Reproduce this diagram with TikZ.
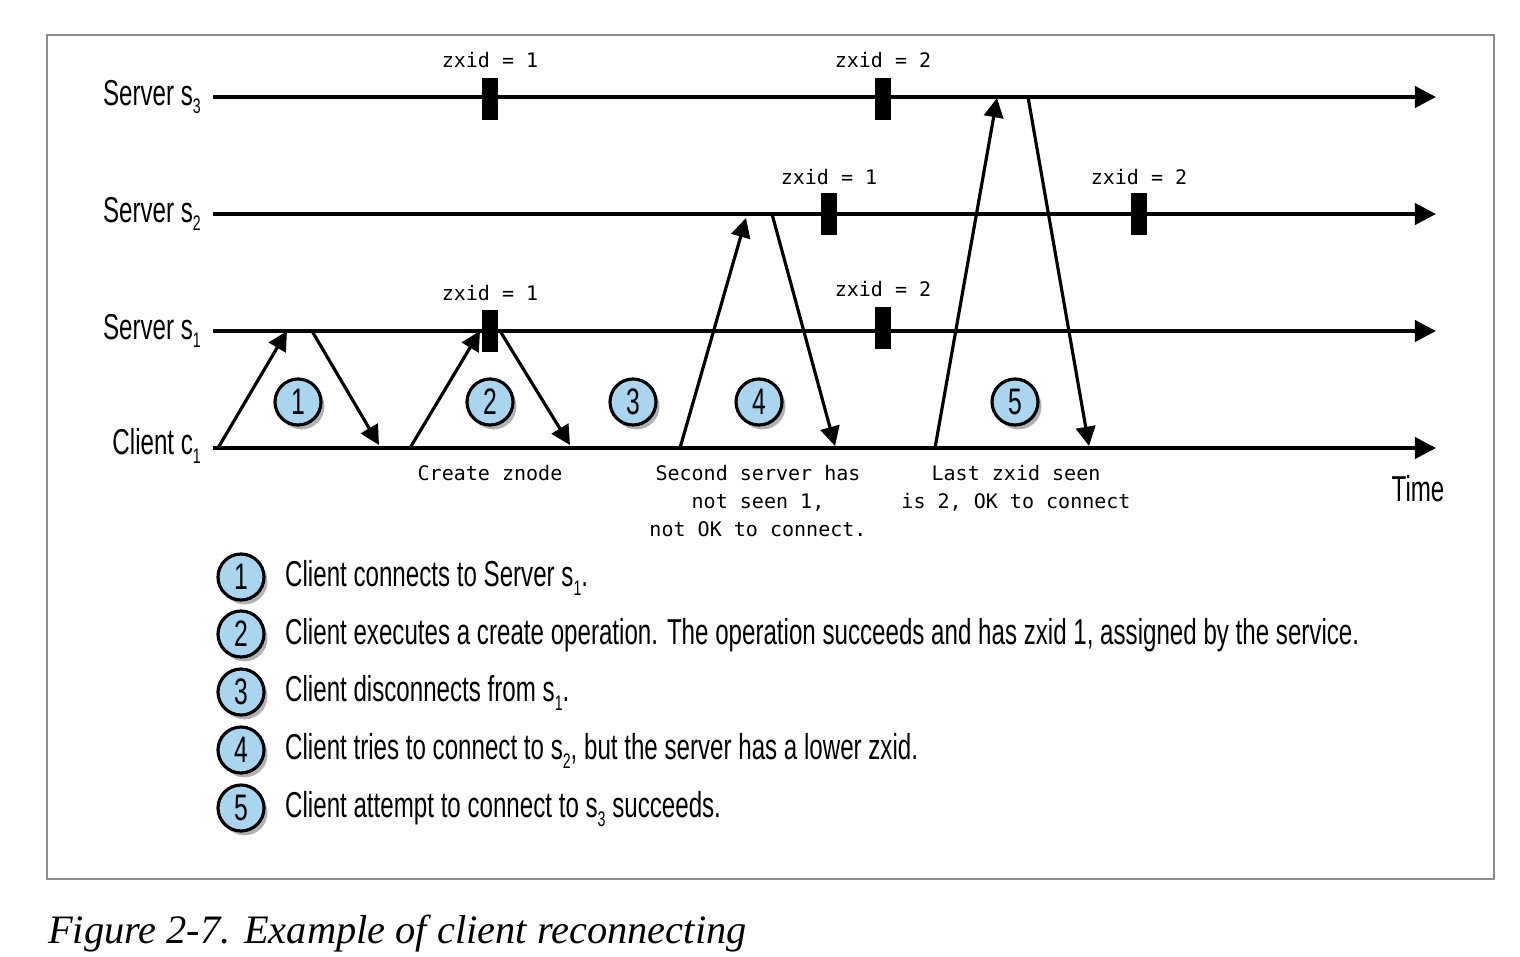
\documentclass[tikz,border=0pt]{standalone}
\usepackage{fontspec}
\setmainfont{Liberation Sans}[FakeStretch=0.67]
\newfontfamily\monof{DejaVu Sans Mono}
\newfontfamily\capf{Liberation Serif}
\usetikzlibrary{arrows.meta,shadows}
\definecolor{cblue}{HTML}{A9D5EF}
\newcommand\sbt[1]{\raisebox{-0.45ex}{\fontsize{12}{12}\selectfont #1}}
\tikzset{
  x=0.02cm, y=-0.02cm,
  big/.style={font=\fontsize{20.5}{22}\selectfont},
  mono/.style={font=\monof\fontsize{11.4}{15.8}\selectfont, align=center, inner sep=0pt},
  tl/.style={line width=2.2pt, -{Triangle[length=12pt,width=12pt]}},
  msg/.style={line width=1.8pt, -{Triangle[length=11pt,width=11pt]}},
  zmark/.style={fill=black, inner sep=0pt, minimum width=0.32cm, minimum height=0.84cm},
  num/.style={circle, draw=black, line width=1.8pt, fill=cblue, minimum size=0.92cm,
    inner sep=0pt, font=\fontsize{21}{21}\selectfont,
    drop shadow={shadow xshift=2pt, shadow yshift=-2.5pt, opacity=0.3, fill=black}},
}
\begin{document}
\begin{tikzpicture}
\useasboundingbox (0,0) rectangle (1520,956);
\draw[black!45, line width=0.8pt] (47,35) rectangle (1494,879);

% timelines
\foreach \n/\yy in {s3/97, s2/214, s1/331, c1/448}{
  \coordinate (\n-a) at (213,\yy);
  \coordinate (\n-b) at (1436,\yy);
  \draw[tl] (\n-a) -- (\n-b);
}
\node[big, anchor=east] (ls3) at (207,97) {Server s\sbt{3}};
\node[big, anchor=east] (ls2) at (207,214) {Server s\sbt{2}};
\node[big, anchor=east] (ls1) at (207,331) {Server s\sbt{1}};
\node[big, anchor=east] (lc1) at (207,446) {Client c\sbt{1}};
\node[big] (time) at (1418,489) {Time};

% zxid marks
\node[zmark] (m31) at (490,99) {};
\node[zmark] (m32) at (883,99) {};
\node[zmark] (m21) at (829,214) {};
\node[zmark] (m22) at (1139,214) {};
\node[zmark] (m11) at (490,331) {};
\node[zmark] (m12) at (883,328) {};
\node[mono] (z31) at (490,60) {zxid = 1};
\node[mono] (z32) at (883,60) {zxid = 2};
\node[mono] (z21) at (829,177) {zxid = 1};
\node[mono] (z22) at (1139,177) {zxid = 2};
\node[mono] (z11) at (490,293) {zxid = 1};
\node[mono] (z12) at (883,289) {zxid = 2};

% message arrows
\coordinate (p1a) at (218,448); \coordinate (p1b) at (287,331);
\coordinate (p1c) at (312,331); \coordinate (p1d) at (379,445);
\coordinate (p2a) at (410,448); \coordinate (p2b) at (480,331);
\coordinate (p2c) at (500,331); \coordinate (p2d) at (570,445);
\coordinate (p4a) at (680,448); \coordinate (p4b) at (746,218);
\coordinate (p4c) at (772,214); \coordinate (p4d) at (835,446);
\coordinate (p5a) at (935,448); \coordinate (p5b) at (997,98);
\coordinate (p5c) at (1028,97); \coordinate (p5d) at (1089,446);
\draw[msg] (p1a) -- (p1b);
\draw[msg] (p1c) -- (p1d);
\draw[msg] (p2a) -- (p2b);
\draw[msg] (p2c) -- (p2d);
\draw[msg] (p4a) -- (p4b);
\draw[msg] (p4c) -- (p4d);
\draw[msg] (p5a) -- (p5b);
\draw[msg] (p5c) -- (p5d);

% numbered circles
\node[num] (c1) at (298,402) {1};
\node[num] (c2) at (490,402) {2};
\node[num] (c3) at (633,402) {3};
\node[num] (c4) at (759,402) {4};
\node[num] (c5) at (1015,402) {5};

% notes under client line
\node[mono, anchor=north] (n2) at (490,465) {Create znode};
\node[mono, anchor=north] (n4) at (758,465) {Second server has\\not seen 1,\\not OK to connect.};
\node[mono, anchor=north] (n5) at (1016,465) {Last zxid seen\\is 2, OK to connect};

% legend
\foreach \k/\yy in {1/577, 2/634, 3/692, 4/750, 5/808}{
  \node[num] (g\k) at (241,\yy) {\k};
}
\node[big, anchor=west] (t1) at (279,578) {Client connects to Server s\sbt{1}.};
\node[big, anchor=west] (t2) at (279,635) {Client executes a create operation. The operation succeeds and has zxid 1, assigned by the service.};
\node[big, anchor=west] (t3) at (279,693) {Client disconnects from s\sbt{1}.};
\node[big, anchor=west] (t4) at (279,751) {Client tries to connect to s\sbt{2}, but the server has a lower zxid.};
\node[big, anchor=west] (t5) at (279,809) {Client attempt to connect to s\sbt{3} succeeds.};

% caption
\node[anchor=west, font=\capf\itshape\fontsize{23}{25}\selectfont] (cap) at (42,934) {Figure 2-7. Example of client reconnecting};
\end{tikzpicture}
\end{document}
